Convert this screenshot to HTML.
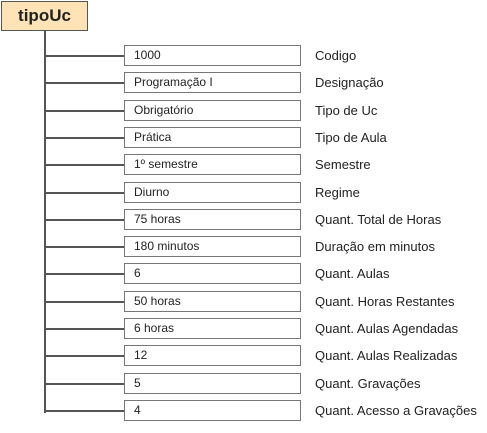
<!DOCTYPE html><html><head><style>
body{margin:0;width:487px;height:433px;background:#fff;position:relative;font-family:"Liberation Sans",sans-serif;overflow:hidden}
.h{position:absolute;left:1px;top:1px;width:85px;height:28px;background:#fde3b6;border:1px solid #555;font-weight:bold;font-size:17px;line-height:28px;text-align:center;color:#222}
.v{position:absolute;left:44px;top:30px;width:2px;background:#555}
.c{position:absolute;left:45px;width:80px;height:2px;background:#555}
.b{position:absolute;left:124px;width:166px;height:19px;border:1px solid #777;font-size:12px;line-height:19px;padding-left:9px;color:#222}
.l{position:absolute;left:315px;font-size:13px;line-height:19px;color:#222}
</style></head><body>
<div class="h">tipoUc</div>
<div class="v" style="height:383px"></div>
<div id="r"></div>
<script>
var d=[["1000","Codigo"],["Programação I","Designação"],["Obrigatório","Tipo de Uc"],["Prática","Tipo de Aula"],["1º semestre","Semestre"],["Diurno","Regime"],["75 horas","Quant. Total de Horas"],["180 minutos","Duração em minutos"],["6","Quant. Aulas"],["50 horas","Quant. Horas Restantes"],["6 horas","Quant. Aulas Agendadas"],["12","Quant. Aulas Realizadas"],["5","Quant. Gravações"],["4","Quant. Acesso a Gravações"]];
var h="";d.forEach(function(x,i){var y=Math.round(45+i*27.3);
h+='<div class="c" style="top:'+(y+10)+'px"></div><div class="b" style="top:'+y+'px">'+x[0]+'</div><div class="l" style="top:'+(y+1)+'px">'+x[1]+'</div>';});
document.getElementById("r").innerHTML=h;
</script>
</body></html>
